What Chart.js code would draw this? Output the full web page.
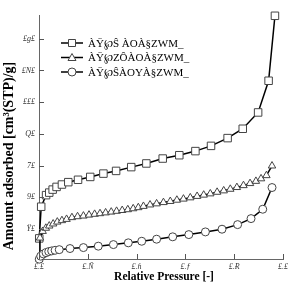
<!DOCTYPE html>
<html>
<head>
<meta charset="utf-8">
<script src="https://cdn.jsdelivr.net/npm/chart.js@4.4.1/dist/chart.umd.min.js"></script>
<style>
html,body{margin:0;padding:0;background:#fff;}
</style>
</head>
<body>
<canvas id="stage" width="292" height="284"></canvas>
<script>
// series labels (as they appear in the picture)
const seriesNames = ["ÀŸ℘Ŝ ÀOÀ§ZWM_", "ÀŸ℘ZÔÀOÀ§ZWM_", "ÀŸ℘ŜÀOYÀ§ZWM_"];

// squares
const sqP = [0.001, 0.009, 0.029, 0.042, 0.056, 0.072, 0.094, 0.12, 0.16, 0.21, 0.264, 0.316, 0.378, 0.44, 0.507, 0.575, 0.641, 0.705, 0.773, 0.835, 0.898, 0.941, 0.967];
const sqV = [14, 34, 41.3, 42.9, 44.8, 46.5, 48, 49.5, 51, 52.8, 54.9, 56.6, 59, 61.3, 64.4, 66.5, 69.1, 72.4, 77.3, 83.2, 93.5, 113.5, 154.5];

// triangles
const trP = [0.001, 0.004, 0.015, 0.028, 0.042, 0.058, 0.075, 0.094, 0.113, 0.135, 0.158, 0.182, 0.205, 0.228, 0.25, 0.273, 0.296, 0.318, 0.341, 0.364, 0.386, 0.407, 0.428, 0.455, 0.482, 0.51, 0.538, 0.565, 0.592, 0.62, 0.648, 0.675, 0.702, 0.73, 0.757, 0.784, 0.811, 0.838, 0.865, 0.889, 0.91, 0.932, 0.955];
const trV = [1, 14.3, 18.5, 20.5, 21.9, 23.2, 24.4, 25.3, 26.1, 27.2, 27.8, 28.2, 28.8, 29.3, 29.7, 30.2, 30.7, 31.2, 31.7, 32.2, 32.8, 33.5, 34.3, 35.2, 35.9, 36.7, 37.4, 38.2, 38.9, 39.7, 40.6, 41.4, 42.2, 43.2, 44.1, 45.1, 46.2, 47.4, 48.7, 50.1, 51.7, 53.7, 59.8];

// circles
const ciP = [0.001, 0.007, 0.018, 0.029, 0.04, 0.052, 0.066, 0.083, 0.127, 0.182, 0.243, 0.305, 0.366, 0.421, 0.482, 0.548, 0.614, 0.682, 0.75, 0.814, 0.869, 0.917, 0.955];
const ciV = [0.9, 2.8, 4.2, 5, 5.7, 6.1, 6.5, 6.9, 7.6, 8.2, 9.1, 10.1, 11.2, 12.2, 13.5, 15, 16.4, 18.1, 19.8, 22.7, 26.5, 32.4, 46.1];

// ticks
const xTicks = [0, 0.2, 0.4, 0.6, 0.8, 1.0];
const xTickLabels = ["£.£", "£.Ñ", "£.ɦ", "£.ƒ", "£.Ɍ", "£.£"];
const yTicks = [20, 40, 60, 80, 100, 120, 140];
const yTickLabels = ["Ÿ£", "9£", "7£", "Q£", "£££", "£N£", "£g£"];

const xTitle = "Relative Pressure [-]";
const yTitle = "Amount adsorbed [cm³(STP)/g]";

function pts(p, v){
  return p.map((x, i) => ({x: x, y: v[i]}));
}

const styles = [
  {pointStyle: 'rect', pointRadius: 5.3},
  {pointStyle: 'triangle', pointRadius: 4.3},
  {pointStyle: 'circle', pointRadius: 4}
];

const tickFont = {family: "'Liberation Serif'", size: 8, style: 'italic'};

// legend, titles and inward ticks
const extras = {
  id: 'extras',
  afterDraw(chart){
    const ctx = chart.ctx;
    const xs = chart.scales.x, ys = chart.scales.y;
    ctx.save();
    ctx.strokeStyle = '#555';
    ctx.lineWidth = 1;
    xTicks.forEach(v => {
      const px = Math.round(xs.getPixelForValue(v)) + 0.5;
      ctx.beginPath();
      ctx.moveTo(px, ys.bottom);
      ctx.lineTo(px, ys.bottom - 5);
      ctx.stroke();
    });
    yTicks.forEach(v => {
      const py = Math.round(ys.getPixelForValue(v)) + 0.5;
      ctx.beginPath();
      ctx.moveTo(xs.left, py);
      ctx.lineTo(xs.left + 5, py);
      ctx.stroke();
    });

    // titles
    ctx.fillStyle = '#000';
    ctx.font = "bold 11.5px 'Liberation Serif'";
    ctx.textAlign = 'center';
    ctx.textBaseline = 'middle';
    ctx.fillText(xTitle, 164, 277);
    ctx.translate(9, 156);
    ctx.rotate(-Math.PI / 2);
    ctx.font = "bold 14px 'Liberation Serif'";
    ctx.fillText(yTitle, 0, 0);
    ctx.restore();

    // legend
    ctx.save();
    const rows = [43, 57.5, 72];
    rows.forEach((y, i) => {
      ctx.strokeStyle = '#000';
      ctx.lineWidth = 1.5;
      ctx.beginPath();
      ctx.moveTo(61, y);
      ctx.lineTo(83, y);
      ctx.stroke();
      ctx.fillStyle = '#fff';
      ctx.strokeStyle = '#444';
      ctx.lineWidth = 1;
      ctx.beginPath();
      if (i === 0) {
        ctx.rect(68.5, y - 3.5, 7, 7);
      } else if (i === 1) {
        ctx.moveTo(72, y - 4);
        ctx.lineTo(76, y + 3);
        ctx.lineTo(68, y + 3);
        ctx.closePath();
      } else {
        ctx.arc(72, y, 4, 0, Math.PI * 2);
      }
      ctx.fill();
      ctx.stroke();
      ctx.fillStyle = '#000';
      ctx.font = "11px 'Liberation Serif'";
      ctx.textAlign = 'left';
      ctx.textBaseline = 'middle';
      ctx.fillText(seriesNames[i], 88, y + 1);
    });
    ctx.restore();
  }
};

new Chart(document.getElementById("stage"), {
  type: 'scatter',
  data: {
    datasets: [
      {label: seriesNames[0], data: pts(sqP, sqV), order: 3},
      {label: seriesNames[1], data: pts(trP, trV), order: 2},
      {label: seriesNames[2], data: pts(ciP, ciV), order: 1}
    ].map((d, i) => Object.assign(d, {
      showLine: true,
      borderColor: '#000',
      borderWidth: 1.5,
      pointBackgroundColor: '#fff',
      pointBorderColor: '#444',
      pointBorderWidth: 1,
      pointStyle: styles[i].pointStyle,
      pointRadius: styles[i].pointRadius,
      clip: false
    }))
  },
  options: {
    responsive: false,
    animation: false,
    layout: {padding: {top: 15, right: 9, left: 0, bottom: 0}},
    plugins: {legend: {display: false}, tooltip: {enabled: false}},
    scales: {
      x: {
        type: 'linear', min: 0, max: 1,
        afterFit: s => { s.height = 25; },
        afterBuildTicks: s => { s.ticks = xTicks.map(v => ({value: v})); },
        grid: {drawOnChartArea: false, drawTicks: false},
        border: {color: '#666', width: 1},
        ticks: {padding: 3, color: '#333', font: tickFont, maxRotation: 0,
          callback: (v, i) => xTickLabels[i]}
      },
      y: {
        type: 'linear', min: 1, max: 155,
        afterFit: s => { s.width = 39; },
        afterBuildTicks: s => { s.ticks = yTicks.map(v => ({value: v})); },
        grid: {drawOnChartArea: false, drawTicks: false},
        border: {color: '#666', width: 1},
        ticks: {padding: 4, color: '#333', font: tickFont,
          callback: (v, i) => yTickLabels[i]}
      }
    }
  },
  plugins: [extras]
});
</script>
</body>
</html>
